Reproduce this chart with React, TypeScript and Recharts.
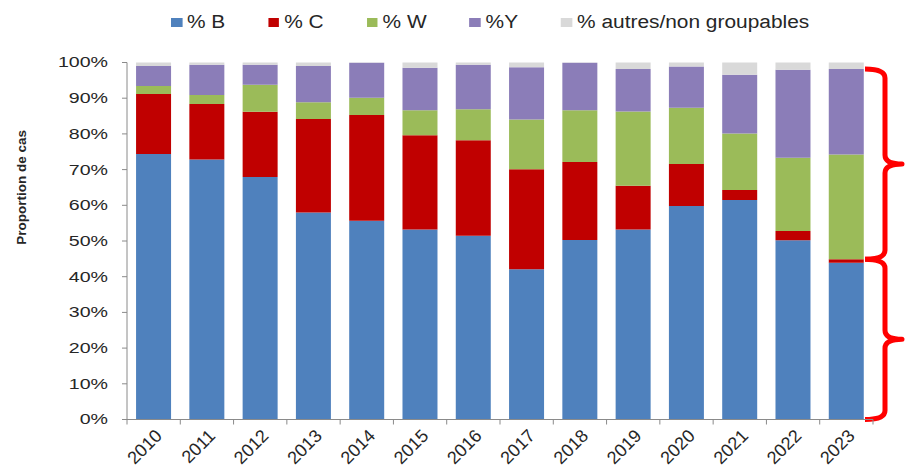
import { BarChart, Bar, XAxis, YAxis, ReferenceArea } from 'recharts';

/* ── Data ─────────────────────────────────────────────────── */
const years = ['2010', '2011', '2012', '2013', '2014', '2015', '2016', '2017', '2018', '2019', '2020', '2021', '2022', '2023'];
const pctB = [74.4, 72.8, 67.9, 58.0, 55.7, 53.2, 51.5, 42.1, 50.3, 53.2, 59.8, 61.5, 50.2, 43.9];
const pctC = [16.8, 15.6, 18.3, 26.2, 29.6, 26.4, 26.7, 28.0, 21.8, 12.3, 11.8, 2.8, 2.6, 1.0];
const pctW = [2.2, 2.5, 7.6, 4.7, 4.8, 7.0, 8.7, 13.9, 14.5, 20.8, 15.7, 15.8, 20.5, 29.3];
const pctY = [5.6, 8.5, 5.6, 10.1, 9.8, 11.9, 12.5, 14.7, 13.3, 11.9, 11.6, 16.5, 24.7, 24.0];
const pctOther = [1.0, 0.6, 0.6, 1.0, 0.1, 1.5, 0.6, 1.3, 0.1, 1.8, 1.1, 3.4, 2.0, 1.8];
const yTicks = [0, 10, 20, 30, 40, 50, 60, 70, 80, 90, 100];

const SERIES = [
  { key: 'B', name: '% B', color: '#4F81BD' },
  { key: 'C', name: '% C', color: '#C00000' },
  { key: 'W', name: '% W', color: '#9BBB59' },
  { key: 'Y', name: '%Y', color: '#8B7DB8' },
  { key: 'O', name: '% autres/non groupables', color: '#D9D9D9' },
];

const data = years.map((year, i) => ({
  year, B: pctB[i], C: pctC[i], W: pctW[i], Y: pctY[i], O: pctOther[i],
}));

/* ── Layout ───────────────────────────────────────────────── */
const W = 905;
const H = 468;
const MARGIN = { top: 62.5, right: 32, left: 0, bottom: 0 };
const Y_AXIS_W = 127;
const X_AXIS_H = 48.5;
const BAND = (W - MARGIN.right - Y_AXIS_W) / years.length;
const FONT = '"Liberation Sans", Arial, sans-serif';
const AXIS = '#8a8a8a';
const TXT = '#262626';

const last = years.length - 1;
const lowTop = pctB[last] + pctC[last];
const highTop = lowTop + pctW[last] + pctY[last];

function YTick({ x, y, payload }: any) {
  return (
    <g transform={`translate(${x},${y})`}>
      <text transform="scale(1.4,1)" textAnchor="end" dy="0.355em" fontSize={14} fill={TXT} fontFamily={FONT}>
        {`${payload.value}%`}
      </text>
    </g>
  );
}

function XTick({ x, y, payload, index }: any) {
  const axisY = y - 7;
  const left = x - BAND / 2;
  return (
    <g>
      <line x1={left} x2={left} y1={axisY} y2={axisY + 5} stroke={AXIS} />
      {index === years.length - 1 && (
        <line x1={x + BAND / 2} x2={x + BAND / 2} y1={axisY} y2={axisY + 5} stroke={AXIS} />
      )}
      <g transform={`translate(${x + 5},${y + 6})`}>
        <text transform="rotate(-45)" textAnchor="end" dy="0.35em" fontSize={18} fill={TXT} fontFamily={FONT}>
          {payload.value}
        </text>
      </g>
    </g>
  );
}

function YLabel({ viewBox }: any) {
  const cx = viewBox.x + 22;
  const cy = viewBox.y + viewBox.height * 0.35;
  return (
    <text x={cx} y={cy} transform={`rotate(-90 ${cx} ${cy})`} textAnchor="middle" dominantBaseline="central"
      fontSize={13.5} fontWeight={700} fill={TXT} fontFamily={FONT}>
      Proportion de cas
    </text>
  );
}

// Red curly brace drawn to the right of the band of the last year
function Brace({ x, y, width, height }: any) {
  const x0 = x + width - 8;
  const xv = x0 + 20;
  const xt = xv + 17;
  const top = y;
  const bot = y + height;
  const mid = (top + bot) / 2;
  const r = 9;
  const d = `M${x0},${top} Q${xv},${top} ${xv},${top + r} L${xv},${mid - r} Q${xv},${mid} ${xt},${mid}`
    + ` Q${xv},${mid} ${xv},${mid + r} L${xv},${bot - r} Q${xv},${bot} ${x0},${bot}`;
  return <path d={d} fill="none" stroke="#FF0000" strokeWidth={5} strokeLinejoin="round" />;
}

function LegendRow() {
  return (
    <div style={{ position: 'absolute', left: 171, top: 12.5, display: 'flex', alignItems: 'center', gap: 37,
      transform: 'scaleX(1.16)', transformOrigin: 'left top', fontFamily: FONT, fontSize: 18, lineHeight: '18px',
      color: TXT, whiteSpace: 'nowrap' }}>
      {SERIES.map(s => (
        <div key={s.key} style={{ display: 'flex', alignItems: 'center', gap: 4.3 }}>
          <div style={{ width: 9.5, height: 9, marginTop: 2, background: s.color }} />
          <span>{s.name}</span>
        </div>
      ))}
    </div>
  );
}

export default function App() {
  return (
    <div style={{ position: 'absolute', left: 0, top: 0, width: W, height: H, background: '#fff' }}>
      <LegendRow />
      <BarChart width={W} height={H} data={data} margin={MARGIN} barCategoryGap="17%">
        <XAxis dataKey="year" height={X_AXIS_H} tickSize={5} tickMargin={2} tickLine={false}
          axisLine={{ stroke: AXIS }} tick={<XTick />} interval={0} />
        <YAxis type="number" domain={[0, 100]} ticks={yTicks} width={Y_AXIS_W} tickSize={5} tickMargin={14}
          axisLine={{ stroke: AXIS }} tickLine={{ stroke: AXIS }} tick={<YTick />} label={<YLabel />} />
        {SERIES.map(s => (
          <Bar key={s.key} dataKey={s.key} name={s.name} stackId="a" fill={s.color} isAnimationActive={false} />
        ))}
        <ReferenceArea x1={years[last]} x2={years[last]} y1={lowTop} y2={highTop} ifOverflow="visible"
          fillOpacity={0} strokeOpacity={0} shape={<Brace />} />
        <ReferenceArea x1={years[last]} x2={years[last]} y1={0} y2={lowTop} ifOverflow="visible"
          fillOpacity={0} strokeOpacity={0} shape={<Brace />} />
      </BarChart>
    </div>
  );
}
